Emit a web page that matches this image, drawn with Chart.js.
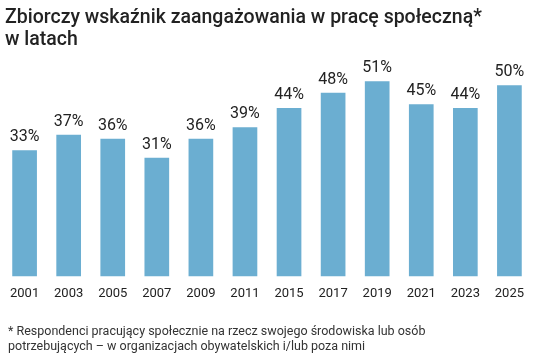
<!DOCTYPE html>
<html>
<head>
<meta charset="utf-8">
<script src="https://cdn.jsdelivr.net/npm/chart.js@4"></script>
<style>
  html, body { margin: 0; padding: 0; background: #fff; }
  #wrap { position: relative; width: 534px; height: 359px; font-family: Roboto, sans-serif; }
  #chart { position: absolute; left: 0; top: 0; }
  #title { position: absolute; left: 5px; top: 6px; font-size: 19.5px; line-height: 22px; font-weight: 500; color: #222; }
  #note { position: absolute; left: 8px; top: 323px; font-size: 12.5px; line-height: 15px; color: #333; }
</style>
</head>
<body>
<div id="wrap">
  <canvas id="chart" width="534" height="359"></canvas>
  <div id="title">Zbiorczy wskaźnik zaangażowania w pracę społeczną*<br>w latach</div>
  <div id="note">* Respondenci pracujący społecznie na rzecz swojego środowiska lub osób<br>potrzebujących – w organizacjach obywatelskich i/lub poza nimi</div>
</div>
<script>
const years = ['2001', '2003', '2005', '2007', '2009', '2011', '2015', '2017', '2019', '2021', '2023', '2025'];
const values = [33, 37, 36, 31, 36, 39, 44, 48, 51, 45, 44, 50];

// labels above bars, no datalabels plugin offline
const valueLabels = {
    id: 'valueLabels',
    afterDatasetsDraw(chart) {
        const ctx = chart.ctx;
        const meta = chart.getDatasetMeta(0);
        ctx.save();
        ctx.font = '16px Roboto';
        ctx.fillStyle = '#222';
        ctx.textAlign = 'center';
        ctx.textBaseline = 'alphabetic';
        meta.data.forEach((bar, i) => {
            ctx.fillText(values[i] + '%', bar.x, bar.y - 9);
        });
        ctx.restore();
    }
};

const ctx = document.getElementById('chart');
Chart.defaults.font.family = 'Roboto';
new Chart(ctx, {
    type: 'bar',
    data: {
        labels: years,
        datasets: [{
            data: values,
            backgroundColor: '#6baed1',
            borderWidth: 0,
            barPercentage: 0.56,
            categoryPercentage: 1
        }]
    },
    options: {
        responsive: false,
        animation: false,
        layout: {
            padding: { top: 66, bottom: 47, left: 0, right: 2 }
        },
        plugins: {
            legend: { display: false },
            tooltip: { enabled: false }
        },
        scales: {
            x: {
                grid: { display: false, drawTicks: false },
                border: { display: false },
                ticks: {
                    color: '#222',
                    font: { size: 13 },
                    padding: 10,
                    maxRotation: 0,
                    autoSkip: false
                }
            },
            y: {
                display: false,
                min: 0,
                max: 55
            }
        }
    },
    plugins: [valueLabels]
});
</script>
</body>
</html>
